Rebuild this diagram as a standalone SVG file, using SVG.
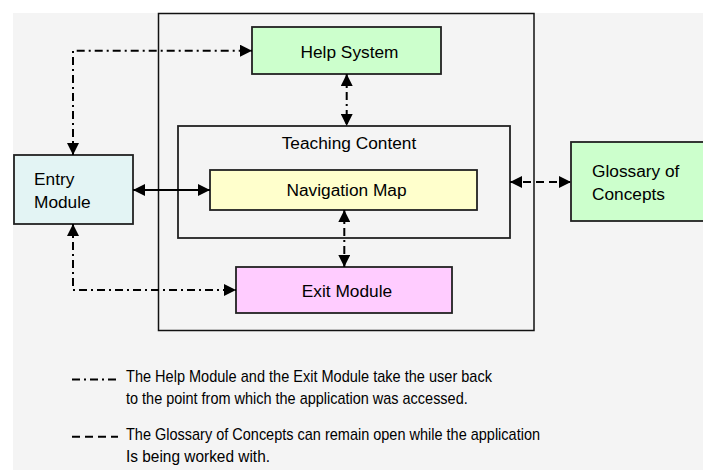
<svg xmlns="http://www.w3.org/2000/svg" width="703" height="470" viewBox="0 0 703 470">
<defs>
<style>
.box{stroke:#222;stroke-width:1.8}
.frame{fill:none;stroke:#111;stroke-width:1.5}
.t{font-family:"Liberation Sans",Arial,sans-serif;font-size:17.3px;fill:#000}
.lg{font-family:"Liberation Sans",Arial,sans-serif;font-size:17px;fill:#000}
.c{fill:none;stroke:#000;stroke-width:2}
.dd{stroke-dasharray:8 4 2 4}
.da{stroke-dasharray:8 5}
</style>
<marker id="ah" viewBox="0 0 12 12" refX="12" refY="6" markerWidth="12" markerHeight="12" markerUnits="userSpaceOnUse" orient="auto-start-reverse">
<path d="M0,0 L12,6 L0,12 z" fill="#000"/>
</marker>
</defs>
<rect x="13" y="13" width="690" height="457" fill="#f4f4f4"/>
<g id="application-frame">
<rect class="frame" x="158.5" y="13.5" width="375.5" height="317"/>
</g>
<g id="teaching-content">
<rect class="box" x="178" y="126" width="332" height="112" fill="#f4f4f4"/>
<text class="t" x="349" y="148.5" text-anchor="middle">Teaching Content</text>
</g>
<g id="help-system">
<rect class="box" x="252" y="27" width="189" height="47" fill="#ccffcc"/>
<text class="t" x="349.5" y="57.5" text-anchor="middle">Help System</text>
</g>
<g id="entry-module">
<rect class="box" x="14" y="155" width="119" height="69" fill="#e3f4f4"/>
<text class="t" x="34" y="185">Entry</text>
<text class="t" x="34" y="207.7">Module</text>
</g>
<g id="navigation-map">
<rect class="box" x="210" y="170" width="267" height="40" fill="#ffffcc"/>
<text class="t" x="346.5" y="196" text-anchor="middle">Navigation Map</text>
</g>
<g id="exit-module">
<rect class="box" x="236" y="267" width="216" height="46" fill="#ffccff"/>
<text class="t" x="347" y="297" text-anchor="middle">Exit Module</text>
</g>
<g id="glossary">
<rect class="box" x="571" y="142" width="140" height="79" fill="#ccffcc"/>
<text class="t" x="592" y="177">Glossary of</text>
<text class="t" x="592" y="200">Concepts</text>
</g>
<g id="connectors">
<path class="c dd" d="M73,155 L73,50.7 L252,50.7" marker-start="url(#ah)" marker-end="url(#ah)"/>
<path class="c dd" d="M346.7,74 L346.7,126" marker-start="url(#ah)" marker-end="url(#ah)"/>
<path class="c" d="M133,190 L210,190" marker-start="url(#ah)" marker-end="url(#ah)"/>
<path class="c dd" d="M344.3,210 L344.3,267" marker-start="url(#ah)" marker-end="url(#ah)"/>
<path class="c dd" d="M73,224 L73,290 L236,290" marker-start="url(#ah)" marker-end="url(#ah)"/>
<path class="c da" d="M510,182 L571,182" marker-start="url(#ah)" marker-end="url(#ah)"/>
</g>
<g id="legend">
<line class="c dd" x1="72" y1="379.5" x2="118" y2="379.5"/>
<line class="c da" x1="72" y1="436.7" x2="118" y2="436.7" stroke-dasharray="5 3"/>
<text class="lg" x="126" y="382.3" textLength="366" lengthAdjust="spacingAndGlyphs">The Help Module and the Exit Module take the user back</text>
<text class="lg" x="126" y="404.3" textLength="341.7" lengthAdjust="spacingAndGlyphs">to the point from which the application was accessed.</text>
<text class="lg" x="126" y="440" textLength="414" lengthAdjust="spacingAndGlyphs">The Glossary of Concepts can remain open while the application</text>
<text class="lg" x="126" y="461.7" textLength="144" lengthAdjust="spacingAndGlyphs">Is being worked with.</text>
</g>
</svg>
